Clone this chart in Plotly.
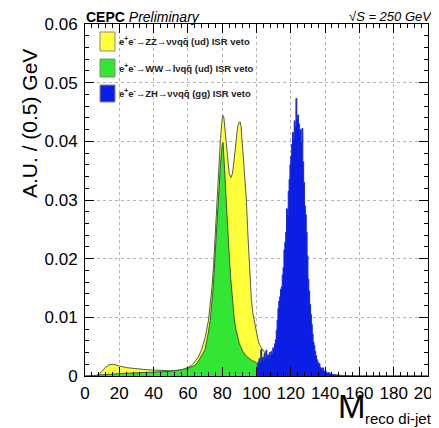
import numpy as np
import plotly.graph_objects as go

# ---------------- data ----------------
# ZZ -> vvqq (ud), smooth distribution (M [GeV], A.U.)
zz_x = [0, 5, 8, 10, 12, 14, 16, 18, 20, 25, 30, 35, 40, 45, 50, 55, 58, 60, 62, 64, 66, 68,
        70, 72, 74, 75, 76, 77, 78, 79, 80, 80.5, 81, 82, 83, 84, 85, 86, 87, 88, 89, 90,
        90.5, 91, 92, 93, 94, 95, 96, 97, 98, 99, 100, 101, 102, 104, 106, 108, 110, 114,
        118, 123, 130, 140, 150, 200]
zz_y = [0, 0, 0.0002, 0.0008, 0.0015, 0.0019, 0.0020, 0.0019, 0.0017, 0.0014, 0.0012, 0.0011,
        0.0010, 0.0009, 0.0009, 0.0010, 0.0012, 0.0015, 0.0018, 0.0024, 0.0032, 0.0045,
        0.0065, 0.0095, 0.0150, 0.0190, 0.0250, 0.0310, 0.0370, 0.0405, 0.0438, 0.0444,
        0.0440, 0.0410, 0.0372, 0.0347, 0.0338, 0.0345, 0.0370, 0.0400, 0.0425, 0.0433,
        0.0433, 0.0425, 0.0390, 0.0350, 0.0305, 0.0240, 0.0180, 0.0130, 0.0105, 0.0091,
        0.0072, 0.0060, 0.0052, 0.0043, 0.0035, 0.0030, 0.0025, 0.0019, 0.0014, 0.0008,
        0.0003, 0.0001, 0.0, 0.0]

# WW -> lvqq (ud)
ww_x = [0, 8, 15, 20, 30, 40, 50, 55, 60, 64, 66, 68, 70, 72, 73, 74.7, 76, 77, 78, 79, 80,
        80.5, 81, 82, 83, 84, 85, 86, 87, 88, 89, 90, 92, 94, 97, 100, 103, 107, 112, 118,
        128, 140, 150, 160, 200]
ww_y = [0, 0.0001, 0.0003, 0.0004, 0.0005, 0.0006, 0.0008, 0.0010, 0.0013, 0.0018, 0.0025,
        0.0035, 0.0045, 0.0075, 0.0095, 0.0148, 0.0215, 0.0270, 0.0320, 0.0362, 0.0394,
        0.0398, 0.0372, 0.0312, 0.0255, 0.0210, 0.0165, 0.0130, 0.0098, 0.0080, 0.0065,
        0.0055, 0.0042, 0.0034, 0.0027, 0.0022, 0.0018, 0.0014, 0.0011, 0.0008, 0.0004,
        0.0002, 0.0001, 0.0, 0.0]

# ZH -> vvqq (gg), 0.5 GeV bins starting at 100 GeV
zh_start = 100.0
zh_width = 0.5
zh_y = [0.0015, 0.0020, 0.0025, 0.0030, 0.0022, 0.0045, 0.0028, 0.0032, 0.0025, 0.0038,
        0.0030, 0.0044, 0.0032, 0.0036, 0.0030, 0.0040, 0.0035, 0.0042, 0.0038, 0.0048,
        0.0045, 0.0055, 0.0062, 0.0078, 0.0095, 0.0115, 0.0128, 0.0135, 0.0148, 0.0152,
        0.0172, 0.0185, 0.0215, 0.0228, 0.0245, 0.0285, 0.0275, 0.0315, 0.0335, 0.0360,
        0.0375, 0.0395, 0.0415, 0.0405, 0.0435, 0.0425, 0.0473, 0.0438, 0.0445, 0.0430,
        0.0415, 0.0420, 0.0398, 0.0422, 0.0365, 0.0330, 0.0290, 0.0275, 0.0245, 0.0205,
        0.0165, 0.0145, 0.0122, 0.0105, 0.0088, 0.0072, 0.0058, 0.0052, 0.0042, 0.0035,
        0.0028, 0.0024, 0.0019, 0.0021, 0.0015, 0.0013, 0.0011, 0.0014, 0.0009, 0.0008,
        0.0006, 0.0007, 0.0005, 0.0004, 0.0006, 0.0003, 0.0004, 0.0003, 0.0002, 0.0003,
        0.0002, 0.0002, 0.0001, 0.0002, 0.0001, 0.0001, 0.0001, 0.0, 0.0001, 0.0]

legend_labels = [
    "<b>e<sup>+</sup>e<sup>-</sup>→ZZ→ννqq̄ (ud) ISR veto</b>",
    "<b>e<sup>+</sup>e<sup>-</sup>→WW→lνqq̄ (ud) ISR veto</b>",
    "<b>e<sup>+</sup>e<sup>-</sup>→ZH→ννqq̄ (gg) ISR veto</b>",
]
x_ticks = [0, 20, 40, 60, 80, 100, 120, 140, 160, 180, 200]
y_ticks = [0, 0.01, 0.02, 0.03, 0.04, 0.05, 0.06]

# ---------------- styling ----------------
YELLOW = "#ffff3a"
GREEN = "#33e633"
BLUE = "#0a1ee6"
FONT = "Liberation Sans, Arial, Helvetica, sans-serif"

# histogram step outline for ZH
zh_edges = [zh_start + i * zh_width for i in range(len(zh_y) + 1)]
zh_step_x = [zh_edges[0]]
zh_step_y = [0.0]
for i, v in enumerate(zh_y):
    zh_step_x += [zh_edges[i], zh_edges[i + 1]]
    zh_step_y += [v, v]
zh_step_x.append(zh_edges[-1])
zh_step_y.append(0.0)

fig = go.Figure()
fig.add_trace(go.Scatter(x=zz_x, y=zz_y, mode="lines", fill="tozeroy",
                         fillcolor=YELLOW, line=dict(color="#5a5a4a", width=1),
                         hoverinfo="skip", showlegend=False))
fig.add_trace(go.Scatter(x=ww_x, y=ww_y, mode="lines", fill="tozeroy",
                         fillcolor=GREEN, line=dict(color="#3a5a3a", width=1),
                         hoverinfo="skip", showlegend=False))
fig.add_trace(go.Scatter(x=zh_step_x, y=zh_step_y, mode="lines", fill="tozeroy",
                         fillcolor=BLUE, line=dict(color="#1a2ad0", width=1),
                         hoverinfo="skip", showlegend=False))

axis_common = dict(
    showline=True, linecolor="black", linewidth=1, mirror="allticks",
    ticks="inside", ticklen=9, tickwidth=1, tickcolor="black",
    showgrid=True, gridcolor="#b4b4b4", griddash="dot", gridwidth=1,
    zeroline=False, tickfont=dict(family=FONT, size=17, color="black"),
    ticklabeloverflow="allow",
)

fig.update_xaxes(range=[0, 200], tickvals=x_ticks, ticktext=[str(v) for v in x_ticks],
                 minor=dict(dtick=4, ticks="inside", ticklen=4, tickcolor="black", showgrid=False),
                 ticklabelstandoff=2, **axis_common)
fig.update_yaxes(range=[0, 0.06], tickvals=y_ticks,
                 ticktext=["0", "0.01", "0.02", "0.03", "0.04", "0.05", "0.06"],
                 minor=dict(dtick=0.002, ticks="inside", ticklen=4, tickcolor="black", showgrid=False),
                 ticklabelstandoff=3, **axis_common)

# The page body adds an 8 px offset; positions below are in screenshot pixels.
OFF = 8
FIG_W, FIG_H = 439 - OFF, 428 - OFF
# plot area in screenshot pixels: x 85..428, y 24..376
L, R, T, B = 85, 428, 24, 376
W, H = R - L, B - T


def px(xp):
    return (xp - L) / W


def py(yp):
    return (B - yp) / H


annotations = [
    dict(text="A.U. / (0.5) GeV", x=px(30), y=py(124), xref="paper", yref="paper",
         textangle=-90, showarrow=False, font=dict(family=FONT, size=21, color="black"),
         xanchor="center", yanchor="middle"),
    dict(text="M", x=px(337), y=py(426), xref="paper", yref="paper",
         showarrow=False, font=dict(family=FONT, size=33, color="black"),
         xanchor="left", yanchor="bottom", borderpad=0),
    dict(text="reco di-jet", x=px(433), y=py(428), xref="paper", yref="paper",
         showarrow=False, font=dict(family=FONT, size=15, color="black"),
         xanchor="right", yanchor="bottom", borderpad=0),
    dict(text="<b>CEPC</b> <i>Preliminary</i>", x=px(85), y=py(8), xref="paper", yref="paper",
         showarrow=False, font=dict(family=FONT, size=14, color="black"),
         xanchor="left", yanchor="top", borderpad=0),
    dict(text="<i>√S = 250 GeV</i>", x=px(433), y=py(8), xref="paper", yref="paper",
         showarrow=False, font=dict(family=FONT, size=13, color="black"),
         xanchor="right", yanchor="top", borderpad=0),
]

box_colors = [YELLOW, GREEN, BLUE]
box_y = [(32, 51), (59, 77), (85, 102)]
shapes = []
for col, (y0, y1), lab in zip(box_colors, box_y, legend_labels):
    shapes.append(dict(type="rect", xref="paper", yref="paper",
                       x0=px(100), x1=px(115), y0=py(y1), y1=py(y0),
                       fillcolor=col, line=dict(color="#888888", width=1)))
    annotations.append(dict(text=lab, x=px(117), y=py((y0 + y1) / 2), xref="paper", yref="paper",
                            showarrow=False, font=dict(family=FONT, size=9.5, color="#222222"),
                            xanchor="left", yanchor="middle"))

fig.update_layout(
    width=FIG_W, height=FIG_H,
    margin=dict(l=L - OFF, r=FIG_W - (R - OFF), t=T - OFF, b=FIG_H - (B - OFF), autoexpand=False),
    paper_bgcolor="white", plot_bgcolor="white",
    annotations=annotations, shapes=shapes,
    showlegend=False,
)

fig.write_html("out.html")
